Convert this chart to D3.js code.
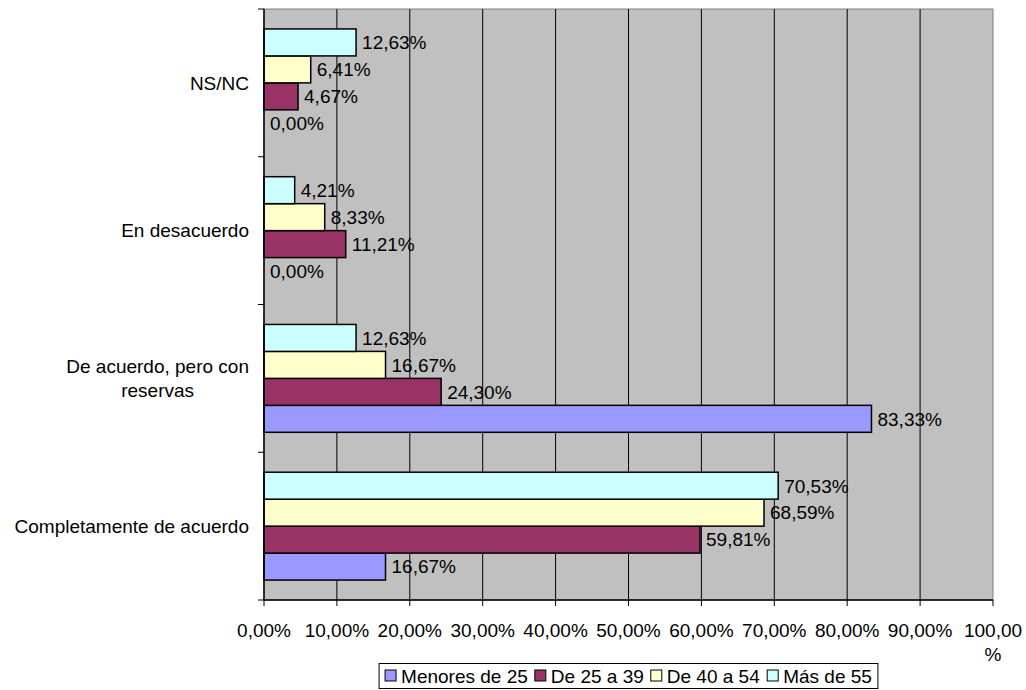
<!DOCTYPE html>
<html>
<head>
<meta charset="utf-8">
<script src="https://cdn.jsdelivr.net/npm/d3@7"></script>
<style>
  body { margin: 0; background: #fff; }
  text { font-family: "Liberation Sans", Arial, sans-serif; fill: #000; }
</style>
</head>
<body>
<div id="chart"></div>
<script>
// categories top to bottom
var categories = ["NS/NC", "En desacuerdo", "De acuerdo, pero con reservas", "Completamente de acuerdo"];
var series = ["Menores de 25", "De 25 a 39", "De 40 a 54", "Más de 55"];
var colors = ["#9999FF", "#993366", "#FFFFCC", "#CCFFFF"];

// values per series, in the order of categories
var menores25 = [0.00, 0.00, 83.33, 16.67];
var de25a39   = [4.67, 11.21, 24.30, 59.81];
var de40a54   = [6.41, 8.33, 16.67, 68.59];
var mas55     = [12.63, 4.21, 12.63, 70.53];
var values = [menores25, de25a39, de40a54, mas55];

var tickValues = [0, 10, 20, 30, 40, 50, 60, 70, 80, 90, 100];

var width = 1026, height = 690;
var plotLeft = 264, plotRight = 993, plotTop = 9, plotBottom = 600;
var fs = 19;

var svg = d3.select("#chart").append("svg")
  .attr("width", width)
  .attr("height", height);

var x = d3.scaleLinear().domain([0, 100]).range([plotLeft, plotRight]);
var y = d3.scaleBand().domain(categories).range([plotTop, plotBottom]);
// Más de 55 on top, Menores de 25 at the bottom
var sub = d3.scaleBand().domain(series.slice().reverse())
  .range([0, y.bandwidth()]).paddingOuter(0.74);

var fmt = function(v) { return v.toFixed(2).replace(".", ",") + "%"; };

// plot area
svg.append("rect")
  .attr("x", plotLeft).attr("y", plotTop)
  .attr("width", plotRight - plotLeft).attr("height", plotBottom - plotTop)
  .attr("fill", "#C0C0C0")
  .attr("stroke", "#808080");

svg.append("g").selectAll("line")
  .data(tickValues.slice(1, -1))
  .enter().append("line")
    .attr("x1", function(d) { return x(d); })
    .attr("x2", function(d) { return x(d); })
    .attr("y1", plotTop).attr("y2", plotBottom)
    .attr("stroke", "#000")
    .attr("stroke-width", 1);

// bars
var rows = [];
series.forEach(function(s, i) {
  categories.forEach(function(c, j) {
    rows.push({ cat: c, series: s, color: colors[i], value: values[i][j] });
  });
});

var bar = svg.append("g").selectAll("g")
  .data(rows)
  .enter().append("g");

bar.filter(function(d) { return d.value > 0; })
  .append("rect")
    .attr("x", x(0))
    .attr("y", function(d) { return y(d.cat) + sub(d.series); })
    .attr("width", function(d) { return x(d.value) - x(0); })
    .attr("height", sub.bandwidth())
    .attr("fill", function(d) { return d.color; })
    .attr("stroke", "#000")
    .attr("stroke-width", 1.5);

bar.append("text")
  .attr("x", function(d) { return x(d.value) + 6; })
  .attr("y", function(d) { return y(d.cat) + sub(d.series) + sub.bandwidth() / 2; })
  .attr("dy", "0.36em")
  .style("font-size", fs + "px")
  .text(function(d) { return fmt(d.value); });

// axes
var xAxis = svg.append("g").attr("transform", "translate(0," + plotBottom + ")");
xAxis.append("line")
  .attr("x1", plotLeft).attr("x2", plotRight)
  .attr("stroke", "#000").attr("stroke-width", 1.5);
xAxis.selectAll(".tick")
  .data(tickValues)
  .enter().append("line")
    .attr("x1", function(d) { return x(d); })
    .attr("x2", function(d) { return x(d); })
    .attr("y1", 0).attr("y2", 6)
    .attr("stroke", "#000");
xAxis.selectAll(".lbl")
  .data(tickValues)
  .enter().append("text")
    .attr("text-anchor", "middle")
    .attr("x", function(d) { return x(d); })
    .attr("y", 37)
    .style("font-size", fs + "px")
    .text(function(d) { return d === 100 ? "100,00" : fmt(d); });
xAxis.append("text")
  .attr("text-anchor", "middle")
  .attr("x", x(100))
  .attr("y", 61)
  .style("font-size", fs + "px")
  .text("%");

var yAxis = svg.append("g");
yAxis.append("line")
  .attr("x1", plotLeft).attr("x2", plotLeft)
  .attr("y1", plotTop).attr("y2", plotBottom)
  .attr("stroke", "#000").attr("stroke-width", 1.5);
var bounds = categories.map(function(c) { return y(c); }).concat([plotBottom]);
yAxis.selectAll(".tick")
  .data(bounds)
  .enter().append("line")
    .attr("x1", plotLeft - 6).attr("x2", plotLeft)
    .attr("y1", function(d) { return d; })
    .attr("y2", function(d) { return d; })
    .attr("stroke", "#000");

// category labels, wrapped like the original
var catLines = {
  "De acuerdo, pero con reservas": ["De acuerdo, pero con", "reservas"]
};
categories.forEach(function(c) {
  var lines = catLines[c] || [c];
  var t = yAxis.append("text")
    .style("font-size", fs + "px")
    .attr("text-anchor", "middle");
  var cy = y(c) + y.bandwidth() / 2 - (lines.length - 1) * 12;
  lines.forEach(function(l, i) {
    t.append("tspan").attr("x", 0).attr("y", cy + i * 24).attr("dy", "0.36em").text(l);
  });
  var w = t.node().getBBox().width;
  t.selectAll("tspan").attr("x", 249 - w / 2);
});

// legend
var legend = svg.append("g");
var lx = 0;
var items = legend.selectAll("g")
  .data(series)
  .enter().append("g");
items.append("rect")
  .attr("width", 11).attr("height", 11)
  .attr("y", -6)
  .attr("fill", function(d, i) { return colors[i]; })
  .attr("stroke", "#000");
items.append("text")
  .attr("x", 16)
  .attr("dy", "0.36em")
  .style("font-size", fs + "px")
  .text(function(d) { return d; });
items.each(function() {
  d3.select(this).attr("transform", "translate(" + lx + ",0)");
  lx += this.getBBox().width + 7;
});
var lw = lx - 7 + 12;
var lcx = (plotLeft + plotRight) / 2;
var boxX = lcx - lw / 2;
legend.insert("rect", ":first-child")
  .attr("x", -6).attr("y", -12.5)
  .attr("width", lw).attr("height", 25)
  .attr("fill", "#fff")
  .attr("stroke", "#000");
legend.attr("transform", "translate(" + (boxX + 6) + ",676)");
</script>
</body>
</html>
